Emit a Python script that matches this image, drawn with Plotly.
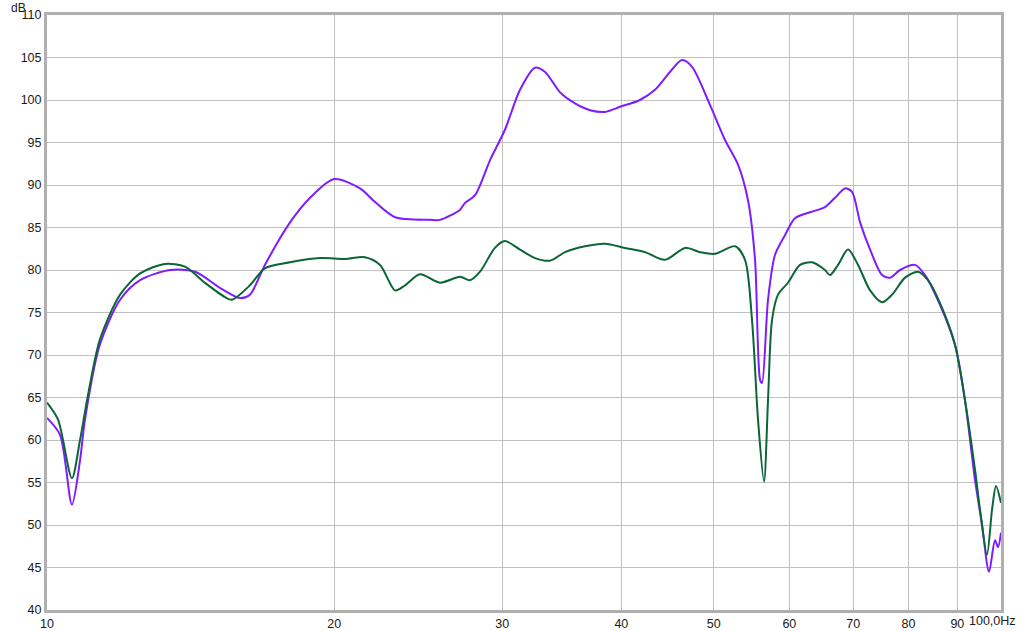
import plotly.graph_objects as go

# Frequencies (Hz) and levels (dB)
purple_freq = [10.0, 10.32, 10.62, 10.83, 10.96, 11.36, 11.93, 12.52, 13.46, 14.30, 15.18, 15.93, 16.32,
               16.92, 17.98, 18.87, 20.0, 21.29, 22.07, 23.17, 25.20, 25.82, 27.10, 27.43, 28.10, 29.13,
               30.20, 31.32, 32.47, 33.27, 34.50, 35.76, 37.09, 38.45, 39.87, 41.83, 43.38, 44.98, 46.31,
               47.44, 49.55, 51.37, 53.01, 54.30, 55.23, 55.90, 56.17, 56.99, 57.96, 59.37, 60.82, 63.07,
               65.38, 66.99, 68.63, 69.80, 71.17, 72.91, 75.05, 76.50, 78.38, 81.26, 83.24, 86.31, 89.49,
               91.67, 93.92, 95.53, 97.14, 98.56, 99.29, 100.0]
purple_db = [62.6, 60.6, 52.4, 57.6, 62.4, 71.2, 76.5, 78.8, 80.0, 79.8, 77.9, 76.7, 77.1,
             80.6, 85.6, 88.5, 90.7, 89.6, 88.0, 86.2, 85.9, 85.9, 87.1, 87.9, 88.8, 92.9,
             96.5, 101.2, 103.8, 103.3, 100.9, 99.6, 98.8, 98.6, 99.2, 100.0, 101.2, 103.3, 104.7,
             103.9, 99.4, 95.3, 92.4, 88.2, 81.2, 67.1, 66.7, 76.5, 81.8, 84.1, 86.1, 86.8,
             87.4, 88.5, 89.6, 89.2, 85.6, 82.4, 79.4, 79.1, 80.0, 80.6, 79.4, 75.9, 71.2,
             64.7, 55.3, 50.0, 44.5, 48.2, 47.4, 49.1]

green_freq = [10.0, 10.27, 10.62, 10.83, 11.04, 11.36, 11.93, 12.52, 13.29, 13.95, 14.64, 15.37, 15.63,
              16.32, 16.92, 17.98, 19.33, 20.53, 21.54, 22.34, 23.17, 23.73, 24.60, 25.82, 27.10, 27.76,
              28.44, 29.48, 30.20, 31.32, 32.47, 33.68, 34.91, 36.64, 38.45, 40.35, 42.35, 44.44, 46.65,
              48.36, 50.15, 52.63, 53.91, 54.83, 55.63, 56.44, 56.99, 57.54, 58.38, 59.80, 61.56, 63.37,
              65.38, 66.18, 67.48, 69.13, 70.82, 72.91, 75.05, 76.88, 79.32, 81.85, 83.85, 86.31, 89.49,
              91.67, 93.92, 95.06, 96.67, 97.86, 98.80, 100.0]
green_db = [64.4, 62.4, 55.5, 60.0, 65.3, 71.8, 77.1, 79.6, 80.7, 80.4, 78.5, 76.8, 76.5,
            78.2, 80.2, 80.9, 81.4, 81.3, 81.5, 80.6, 77.6, 78.2, 79.5, 78.5, 79.2, 78.8,
            79.8, 82.6, 83.4, 82.4, 81.4, 81.1, 82.1, 82.8, 83.1, 82.6, 82.1, 81.2, 82.6,
            82.1, 81.9, 82.8, 81.2, 74.1, 62.4, 55.1, 64.7, 74.1, 77.1, 78.5, 80.6, 80.9,
            80.0, 79.4, 80.6, 82.4, 80.6, 77.6, 76.2, 77.1, 79.1, 79.8, 78.8, 76.1, 71.2,
            64.7, 56.5, 51.8, 46.5, 51.8, 54.6, 52.6]

x_tickvals = [10, 20, 30, 40, 50, 60, 70, 80, 90, 100]
x_ticktext = ["10", "20", "30", "40", "50", "60", "70", "80", "90", ""]
y_tickvals = list(range(40, 111, 5))

fig = go.Figure()
fig.add_trace(go.Scatter(x=purple_freq, y=purple_db, mode="lines",
                         line=dict(color="#7f1cff", width=2, shape="spline", smoothing=0.8),
                         showlegend=False, hoverinfo="skip"))
fig.add_trace(go.Scatter(x=green_freq, y=green_db, mode="lines",
                         line=dict(color="#0a6636", width=2, shape="spline", smoothing=0.8),
                         showlegend=False, hoverinfo="skip"))

font = dict(family="Liberation Sans, Arial, sans-serif", size=12.5, color="#1a1a1a")

fig.update_layout(
    width=1024, height=631,
    margin=dict(l=47, r=23, t=15, b=21, autoexpand=False),
    paper_bgcolor="white", plot_bgcolor="white",
    font=font,
    xaxis=dict(type="log", range=[1, 2], tickvals=x_tickvals, ticktext=x_ticktext,
               showgrid=True, gridcolor="#c0c0c0", gridwidth=1,
               showline=True, linecolor="#b0b0b0", linewidth=3, mirror=True,
               ticks="", zeroline=False, tickfont=font, automargin=False),
    yaxis=dict(range=[40, 110], tickvals=y_tickvals,
               showgrid=True, gridcolor="#c0c0c0", gridwidth=1,
               showline=True, linecolor="#b0b0b0", linewidth=3, mirror=True,
               ticks="", zeroline=False, tickfont=font, automargin=False),
)

fig.add_annotation(text="dB", xref="paper", yref="paper", x=0, y=1, xanchor="right", yanchor="top",
                   xshift=-20, yshift=15, showarrow=False,
                   font=dict(family="Liberation Sans, Arial, sans-serif", size=12, color="#1a1a1a"),
                   borderpad=0)
fig.add_annotation(text="100,0Hz", xref="x", yref="paper", x=2, y=0, xanchor="right", yanchor="top",
                   xshift=17, yshift=-2, showarrow=False, font=font)

fig.write_html("out.html", config={"displayModeBar": False},
               post_script="document.body.style.margin='0';document.body.style.overflow='hidden';")
